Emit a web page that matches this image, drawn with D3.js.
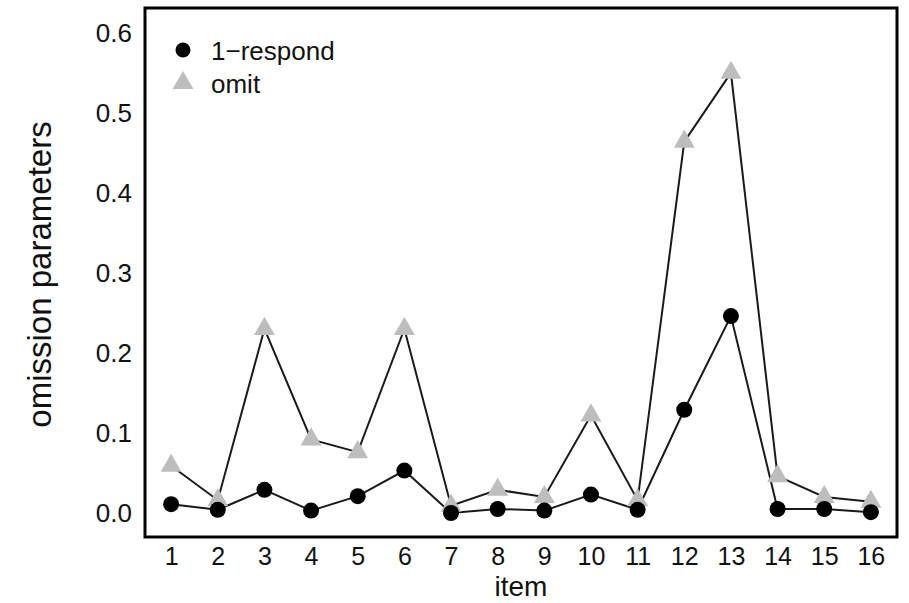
<!DOCTYPE html>
<html>
<head>
<meta charset="utf-8">
<script src="https://cdn.jsdelivr.net/npm/d3@7"></script>
<style>
  html, body { margin: 0; padding: 0; background: #fff; }
  svg { display: block; font-family: "Liberation Sans", Arial, sans-serif; }
</style>
</head>
<body>
<svg id="chart" width="909" height="603"></svg>
<script>
// Items 1..16 and the two estimated omission parameters per item
const items = d3.range(1, 17);
const respond = [0.011, 0.004, 0.029, 0.003, 0.021, 0.053, 0.000, 0.005,
                 0.003, 0.023, 0.004, 0.129, 0.246, 0.005, 0.005, 0.001];
const omit = [0.059, 0.016, 0.230, 0.092, 0.076, 0.230, 0.009, 0.029,
              0.020, 0.122, 0.016, 0.464, 0.550, 0.046, 0.020, 0.014];
const yTicks = [0.0, 0.1, 0.2, 0.3, 0.4, 0.5, 0.6];
const legendLabels = ["1\u2212respond", "omit"];

const svg = d3.select("#chart");
const box = { left: 145, right: 897, top: 8, bottom: 537 };

const x = d3.scaleLinear().domain([0.44, 16.56]).range([box.left, box.right]);
const y = d3.scaleLinear().domain([-0.03, 0.631]).range([box.bottom, box.top]);

// Axes: labels only, no tick marks or axis lines
const xAxis = svg.append("g")
  .attr("transform", `translate(0,${box.bottom})`)
  .call(d3.axisBottom(x).tickValues(items).tickFormat(d3.format("d")).tickSize(0).tickPadding(10));
xAxis.select(".domain").remove();
xAxis.selectAll("text").attr("font-size", 25).attr("fill", "#111")
  .attr("font-family", "'Liberation Sans', Arial, sans-serif");

const yAxis = svg.append("g")
  .attr("transform", `translate(${box.left},0)`)
  .call(d3.axisLeft(y).tickValues(yTicks).tickFormat(d3.format(".1f")).tickSize(0).tickPadding(13));
yAxis.select(".domain").remove();
yAxis.selectAll("text").attr("font-size", 26).attr("fill", "#111")
  .attr("font-family", "'Liberation Sans', Arial, sans-serif");

// Axis titles
svg.append("text")
  .attr("x", (box.left + box.right) / 2).attr("y", 596)
  .attr("text-anchor", "middle").attr("font-size", 28).attr("fill", "#111")
  .text("item");
svg.append("text")
  .attr("transform", `translate(51,${(box.top + box.bottom) / 2 + 2}) rotate(-90)`)
  .attr("text-anchor", "middle").attr("font-size", 33).attr("fill", "#111")
  .text("omission parameters");

// Connecting lines
const line = d3.line().x((d, i) => x(items[i])).y(d => y(d));
svg.append("path").datum(omit).attr("d", line)
  .attr("fill", "none").attr("stroke", "#1a1a1a").attr("stroke-width", 2);
svg.append("path").datum(respond).attr("d", line)
  .attr("fill", "none").attr("stroke", "#1a1a1a").attr("stroke-width", 2);

// Markers
const tri = d3.symbol().type(d3.symbolTriangle).size(190);
svg.append("g").selectAll("path").data(omit).join("path")
  .attr("d", tri)
  .attr("transform", (d, i) => `translate(${x(items[i])},${y(d)})`)
  .attr("fill", "#bdbdbd");
svg.append("g").selectAll("circle").data(respond).join("circle")
  .attr("cx", (d, i) => x(items[i])).attr("cy", d => y(d))
  .attr("r", 8).attr("fill", "#000");

// Legend
const lg = svg.append("g");
lg.append("circle").attr("cx", 183).attr("cy", 50).attr("r", 7.5).attr("fill", "#000");
lg.append("path").attr("d", tri).attr("transform", "translate(183,83)").attr("fill", "#bdbdbd");
lg.selectAll("text").data(legendLabels).join("text")
  .attr("x", 211).attr("y", (d, i) => 60 + i * 33)
  .attr("font-size", 26).attr("fill", "#111")
  .text(d => d);

// Plot frame
svg.append("rect")
  .attr("x", box.left).attr("y", box.top)
  .attr("width", box.right - box.left).attr("height", box.bottom - box.top)
  .attr("fill", "none").attr("stroke", "#000").attr("stroke-width", 3);
</script>
</body>
</html>
